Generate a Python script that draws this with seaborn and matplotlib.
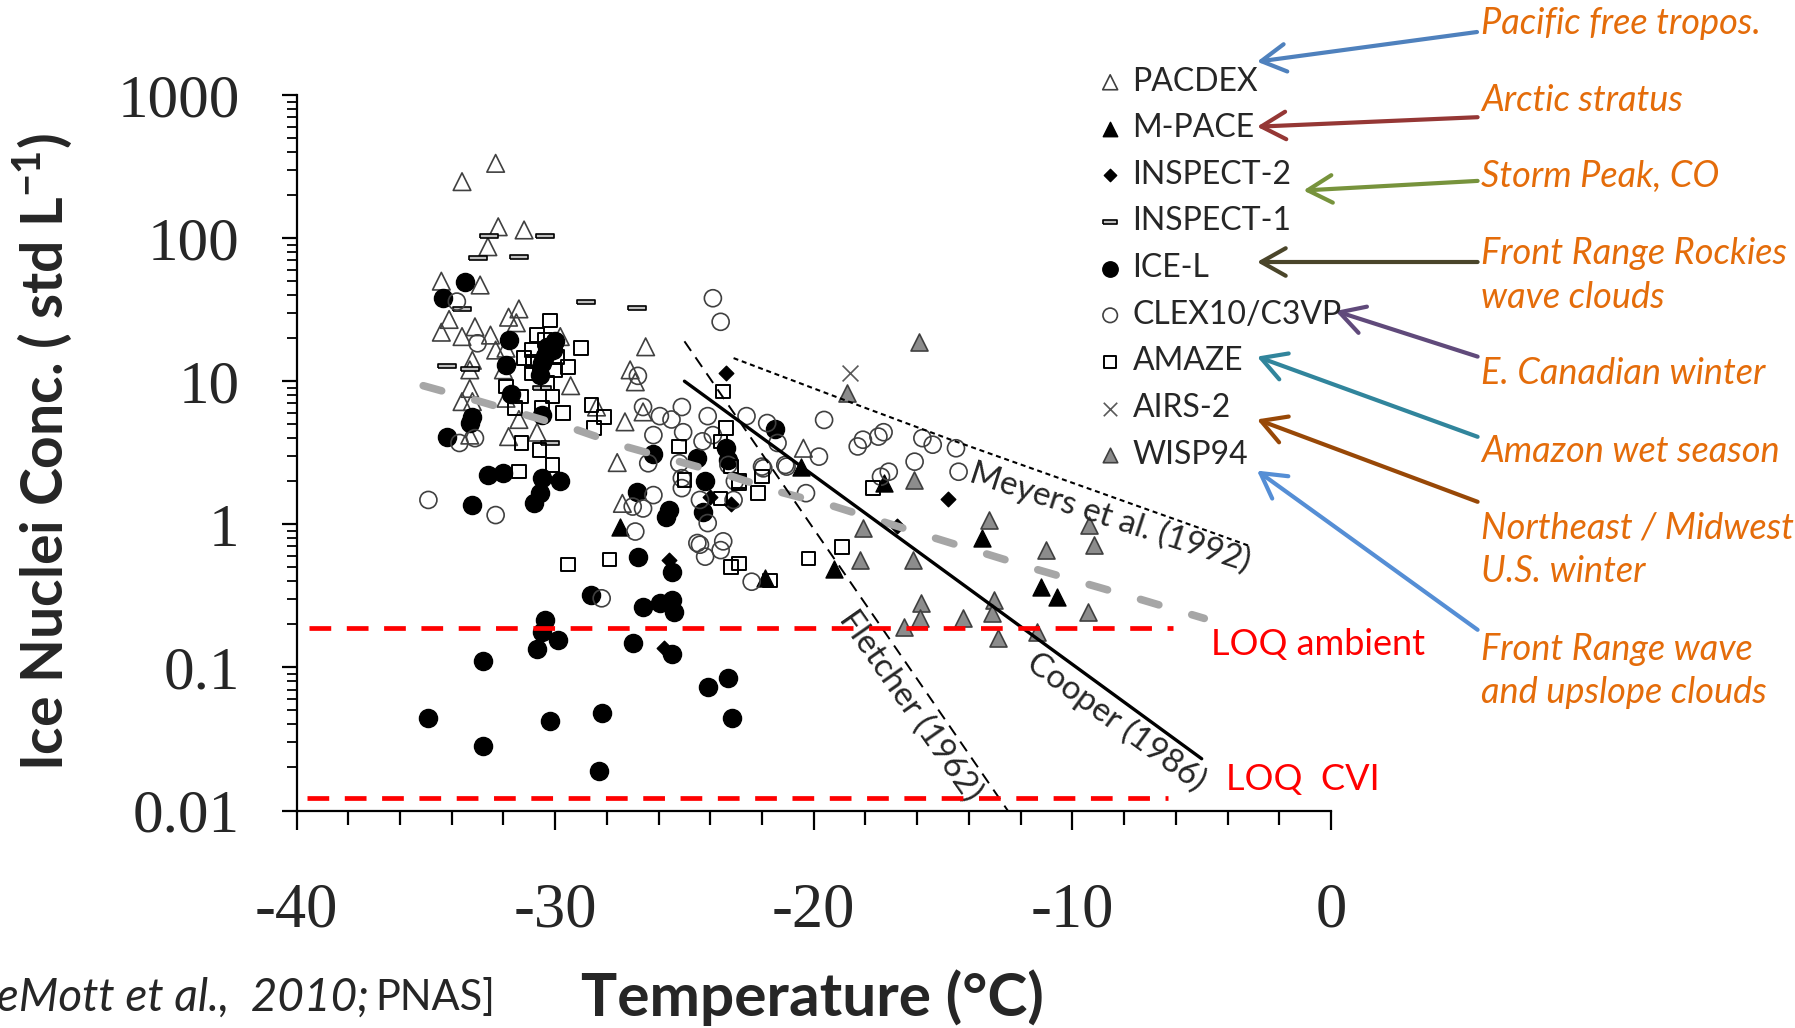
import numpy as np
import pandas as pd
import matplotlib
matplotlib.use("Agg")
import matplotlib.pyplot as plt
import seaborn as sns
from matplotlib.ticker import LogLocator, MultipleLocator, NullFormatter

sns.set_style("ticks")
plt.rcParams["font.family"] = ["Lato", "DejaVu Sans"]
plt.rcParams["mathtext.fontset"] = "custom"
plt.rcParams["mathtext.rm"] = "Lato"
plt.rcParams["mathtext.bf"] = "Lato:bold"

# ---- data read off the DeMott et al. (2010) figure ----
# temperature (C) / ice nuclei conc. (std L-1) for each campaign
pacdex_t = [-32.3, -33.6, -32.2, -31.2, -32.6, -34.4, -32.9, -31.4, -31.8, -31.5, -34.1, -34.4, -33.6,
            -33.1, -32.5, -32.3, -31.9, -29.8, -33.2, -33.3, -32.0, -33.3, -33.6, -33.2, -31.9, -31.4,
            -31.8, -30.7, -29.4, -28.4, -27.3, -26.5, -27.1, -26.9, -26.6, -27.6, -27.4, -33.3, -20.4]
pacdex_n = [333, 248, 120, 114, 87, 50, 47, 32, 28, 25.6, 27, 22, 20.5,
            24, 21, 16.5, 17, 20.5, 14, 12, 12, 8.9, 7.2, 7.2, 7.6, 5.4,
            4.1, 4.4, 9.3, 6.6, 5.2, 17.4, 12, 9.9, 6.1, 2.7, 1.4, 4.2, 3.4]

mpace_t = [-27.5, -21.9, -20.5, -17.3, -19.2, -13.5, -11.2, -10.6]
mpace_n = [0.96, 0.42, 2.53, 1.94, 0.49, 0.8, 0.366, 0.312]

inspect2_t = [-23.4, -14.8, -16.8, -23.2, -24.0, -31.8, -25.6, -25.8]
inspect2_n = [11.4, 1.5, 0.97, 1.39, 1.56, 19.6, 0.56, 0.136]

inspect1_t = [-32.55, -30.4, -33.0, -31.4, -28.8, -26.85, -33.6, -34.2, -33.3, -30.2, -30.5]
inspect1_n = [103, 103, 73, 74, 36, 32.7, 32, 12.8, 12.2, 3.7, 8.9]

icel_t = [-33.5, -34.35, -31.8, -31.9, -30.3, -30.1, -30.5, -31.7, -33.2, -33.3, -30.5, -34.2, -32.6,
          -32.0, -30.5, -29.8, -30.6, -30.8, -33.2, -26.2, -24.5, -23.4, -24.2, -26.85, -25.6, -24.3,
          -21.5, -25.7, -26.8, -28.6, -26.6, -25.95, -25.5, -25.4, -25.5, -30.4, -30.5, -29.9, -30.7,
          -32.8, -27.0, -25.5, -23.3, -24.1, -34.9, -30.2, -28.2, -23.15, -32.8, -28.3, -30.0, -30.4,
          -30.6, -23.3]
icel_n = [49, 38, 19.4, 13, 17.4, 16.5, 13.3, 8.2, 5.6, 5.1, 5.8, 4.1, 2.2,
          2.27, 2.1, 2.0, 1.65, 1.4, 1.36, 3.1, 2.9, 3.4, 2.0, 1.69, 1.26, 1.22,
          4.6, 1.13, 0.594, 0.32, 0.266, 0.28, 0.296, 0.245, 0.467, 0.214, 0.178, 0.155, 0.134,
          0.11, 0.147, 0.125, 0.084, 0.073, 0.044, 0.042, 0.048, 0.044, 0.0284, 0.019, 19, 15,
          11, 2.8]

clex_t = [-23.9, -23.6, -33.8, -33.0, -26.8, -26.6, -25.95, -25.5, -25.1, -24.1, -22.6, -21.8, -26.2,
          -25.05, -24.3, -23.9, -21.4, -26.4, -25.2, -23.3, -21.95, -21.05, -25.1, -23.05, -25.1, -26.2,
          -24.4, -23.1, -27.0, -26.6, -24.1, -26.9, -24.5, -23.5, -32.3, -34.9, -33.7, -33.1, -24.4,
          -24.2, -23.6, -22.4, -28.2, -19.6, -18.3, -18.1, -17.5, -17.3, -15.8, -15.4, -14.5, -16.1,
          -14.4, -17.1, -17.4, -19.8, -20.3, -21.1, -22.0]
clex_n = [38, 26, 36, 18.4, 10.9, 6.6, 5.7, 5.4, 6.6, 5.7, 5.7, 5.1, 4.2,
          4.4, 3.8, 4.2, 3.7, 2.67, 2.67, 2.6, 2.46, 2.53, 2.1, 2.0, 1.79, 1.6,
          1.48, 1.48, 1.33, 1.29, 1.02, 0.89, 0.74, 0.76, 1.16, 1.48, 3.7, 4.0, 0.72,
          0.594, 0.66, 0.397, 0.304, 5.36, 3.5, 3.9, 4.1, 4.4, 4.0, 3.6, 3.4, 2.74,
          2.33, 2.33, 2.15, 2.97, 1.65, 2.6, 2.53]

amaze_t = [-30.2, -29.0, -30.9, -30.4, -30.85, -30.9, -30.6, -30.0, -29.5, -30.3, -31.9, -31.3, -31.55,
           -30.1, -30.5, -29.7, -28.6, -28.1, -28.5, -31.3, -30.6, -30.1, -31.4, -23.5, -23.4, -23.6,
           -25.2, -23.2, -22.0, -22.15, -22.9, -25.0, -23.6, -29.5, -27.9, -23.2, -22.9, -21.7, -17.7,
           -20.2, -18.9, -22.9, -31.2, -29.9, -30.7]
amaze_n = [26.5, 17.1, 16.5, 19.4, 13.7, 11.4, 11.7, 12, 12.6, 9.7, 9.2, 7.8, 6.5,
           7.8, 6.5, 6.0, 6.8, 5.6, 4.7, 3.7, 3.3, 2.6, 2.33, 8.45, 4.7, 3.8,
           3.5, 2.53, 2.15, 1.65, 2.0, 2.04, 1.52, 0.525, 0.569, 0.505, 0.534, 0.404, 1.79,
           0.578, 0.697, 1.94, 14.5, 14.8, 21]

airs2_t = [-18.6]
airs2_n = [11.4]

wisp94_t = [-15.94, -18.72, -16.12, -18.08, -13.22, -9.35, -9.18, -11.01, -18.22, -16.15, -15.84, -15.91,
            -16.5, -14.21, -13.02, -13.11, -12.88, -11.36, -9.38]
wisp94_n = [18.9, 8.3, 2.04, 0.94, 1.07, 0.99, 0.72, 0.66, 0.56, 0.56, 0.28, 0.22,
            0.192, 0.22, 0.296, 0.239, 0.16, 0.177, 0.245]

# reference curves
meyers_t = [-23.1, -18.0, -14.7, -10.0, -5.0, -3.1]
meyers_n = [14.5, 6.5, 3.9, 1.95, 0.93, 0.7]
cooper_t = [-25.0, -5.0]
cooper_n = [10.0, 0.023]
fletcher_t = [-25.0, -12.5]
fletcher_n = [19.0, 0.01]
demott_t = [-35.1, -33.0, -29.2, -27.3, -23.3, -21.3, -19.3, -15.4, -11.4, -7.4, -4.9]
demott_n = [9.3, 7.3, 4.6, 3.5, 2.2, 1.68, 1.35, 0.81, 0.485, 0.30, 0.22]

loq_ambient = 0.187
loq_cvi = 0.0122
loq_ambient_t = [-39.5, -6.1]
loq_cvi_t = [-39.6, -6.3]

xticks = [-40, -30, -20, -10, 0]
xtick_labels = ["-40", "-30", "-20", "-10", "0"]
yticks = [0.01, 0.1, 1, 10, 100, 1000]
ytick_labels = ["0.01", "0.1", "1", "10", "100", "1000"]

campaigns = ["PACDEX", "M-PACE", "INSPECT-2", "INSPECT-1", "ICE-L",
             "CLEX10/C3VP", "AMAZE", "AIRS-2", "WISP94"]
temps = [pacdex_t, mpace_t, inspect2_t, inspect1_t, icel_t, clex_t, amaze_t, airs2_t, wisp94_t]
concs = [pacdex_n, mpace_n, inspect2_n, inspect1_n, icel_n, clex_n, amaze_n, airs2_n, wisp94_n]

df = pd.concat([pd.DataFrame({"temp": t, "inp": n, "campaign": c})
                for c, t, n in zip(campaigns, temps, concs)], ignore_index=True)

bar_marker = [(-1, -0.22), (1, -0.22), (1, 0.22), (-1, 0.22), (-1, -0.22)]
styles = {
    "PACDEX": dict(marker="^", s=160, color="none", edgecolor="#404040", linewidth=1.2),
    "M-PACE": dict(marker="^", s=150, color="black", edgecolor="black", linewidth=1),
    "INSPECT-2": dict(marker="D", s=55, color="black", edgecolor="black", linewidth=1),
    "INSPECT-1": dict(marker=bar_marker, s=150, color="#bfbfbf", edgecolor="black", linewidth=1.2),
    "ICE-L": dict(marker="o", s=170, color="black", edgecolor="black", linewidth=1),
    "CLEX10/C3VP": dict(marker="o", s=150, color="none", edgecolor="#404040", linewidth=1.2),
    "AMAZE": dict(marker="s", s=95, color="none", edgecolor="black", linewidth=1.4),
    "AIRS-2": dict(marker="x", s=130, color="#595959", linewidth=1.2),
    "WISP94": dict(marker="^", s=150, color="#8c8c8c", edgecolor="#404040", linewidth=1.2),
}

fig = plt.figure(figsize=(17.95, 10.28), dpi=100)
ax = fig.add_axes([296.5 / 1795, 1 - 810.5 / 1028, 1034.5 / 1795, 715.5 / 1028])
ax.set_yscale("log")

for name in campaigns:
    sub = df[df["campaign"] == name]
    sns.scatterplot(x=sub["temp"], y=sub["inp"], ax=ax, label=name, legend=False,
                    zorder=3, **styles[name])

# reference curves and detection limits
ax.plot(demott_t, demott_n, color="#a6a6a6", lw=5.5, dashes=(2.5, 4.5),
        dash_capstyle="round", zorder=4)
ax.plot(meyers_t, meyers_n, color="black", lw=1.5, dashes=(2.4, 1.8), zorder=5)
ax.plot(fletcher_t, fletcher_n, color="black", lw=1.4, dashes=(6, 4), zorder=5)
ax.plot(cooper_t, cooper_n, color="black", lw=2.4, zorder=5)
ax.plot(loq_ambient_t, [loq_ambient] * 2, color="red", lw=3.4, dashes=(4.6, 3.3), zorder=6)
ax.plot(loq_cvi_t, [loq_cvi] * 2, color="red", lw=3.4, dashes=(4.6, 3.3), zorder=6)

ax.text(-8.53, 1.12, "Meyers et al. (1992)", rotation=-18, rotation_mode="anchor",
        ha="center", va="center", fontsize=24)
ax.text(-8.31, 0.042, "Cooper (1986)", rotation=-36, rotation_mode="anchor",
        ha="center", va="center", fontsize=24)
ax.text(-16.28, 0.0535, "Fletcher (1962)", rotation=-55, rotation_mode="anchor",
        ha="center", va="center", fontsize=24)
ax.text(-4.64, 0.1435, "LOQ ambient", color="red", fontsize=26, va="center", clip_on=False)
ax.text(-4.07, 0.01644, "LOQ  CVI", color="red", fontsize=26, va="center", clip_on=False)

# axes
ax.set_xlim(-40, 0)
ax.set_ylim(0.01, 1000)
sns.despine(ax=ax)
for side in ["left", "bottom"]:
    ax.spines[side].set_linewidth(1.6)
    ax.spines[side].set_color("black")
ax.set_xticks(xticks)
ax.set_xticklabels(xtick_labels, fontfamily="Liberation Serif", fontsize=45)
ax.xaxis.set_minor_locator(MultipleLocator(2))
ax.set_yticks(yticks)
ax.set_yticklabels(ytick_labels, fontfamily="Liberation Serif", fontsize=44)
ax.yaxis.set_minor_locator(LogLocator(base=10, subs=np.arange(2, 10)))
ax.yaxis.set_minor_formatter(NullFormatter())
ax.tick_params(axis="x", which="major", length=14, width=1.6, pad=38, color="black")
ax.tick_params(axis="x", which="minor", length=10, width=1.6, color="black")
ax.tick_params(axis="y", which="major", length=11, width=1.6, pad=30, color="black")
ax.tick_params(axis="y", which="minor", length=7, width=1.3, color="black")

ax.set_xlabel("Temperature (°C)", fontsize=43.5, fontweight="bold", va="center")
ax.xaxis.set_label_coords(0.499, -0.262)
ax.set_ylabel(r"Ice Nuclei Conc. ( std L$^{\mathbf{-1}}$)", fontsize=41,
              fontweight="bold", va="center")
ax.yaxis.set_label_coords(-0.246, 0.501)

leg = ax.legend(loc="center left", bbox_to_anchor=(1097.4 / 1795, 1 - 268.1 / 1028),
                bbox_transform=fig.transFigure, frameon=False, fontsize=23,
                handlelength=0.8, handletextpad=0.3, labelspacing=0.52,
                borderpad=0, borderaxespad=0, markerscale=0.85, scatterpoints=1)

# campaign descriptions with arrows (figure pixel positions)
orange = "#E46C0A"
notes = ["Pacific free tropos.", "Arctic stratus", "Storm Peak, CO",
         "Front Range Rockies\nwave clouds", "E. Canadian winter", "Amazon wet season",
         "Northeast / Midwest\nU.S. winter", "Front Range wave\nand upslope clouds"]
note_y = [23, 100.7, 176.6, 275.7, 374, 451, 550, 671]
arrow_colors = ["#4F81BD", "#953735", "#77933C", "#4A452A", "#604A7B",
                "#31859C", "#984807", "#558ED5"]
arrow_tail = [(1477, 32), (1477.6, 117.2), (1477.6, 180.9), (1477.6, 262),
              (1477.6, 356.6), (1477.6, 436.8), (1477.6, 501.8), (1477.6, 629.8)]
arrow_head = [(1257, 61.7), (1257, 126.7), (1303.4, 190.5), (1257, 262),
              (1335.4, 311), (1257, 356.6), (1257, 419.4), (1257, 470.6)]


def fpx(x, y):
    return (x / 1795, 1 - y / 1028)


for txt, ty, col, tail, head in zip(notes, note_y, arrow_colors, arrow_tail, arrow_head):
    fig.text(*fpx(1481, ty), txt, color=orange, style="italic", fontsize=26,
             ha="left", va="center", linespacing=1.4)
    ax.annotate("", xy=fpx(*head), xytext=fpx(*tail), xycoords="figure fraction",
                textcoords="figure fraction", annotation_clip=False,
                arrowprops=dict(arrowstyle="->,head_length=0.8,head_width=0.45",
                                color=col, lw=3, mutation_scale=22, shrinkA=0, shrinkB=0))

# source (cut off at the left edge, as in the original slide)
fig.text(*fpx(369, 997), "[DeMott et al.,  2010;", style="italic", fontsize=33,
         ha="right", va="center")
fig.text(*fpx(375, 997), "PNAS]", fontsize=30, ha="left", va="center")

fig.savefig("out.png", dpi=100)
